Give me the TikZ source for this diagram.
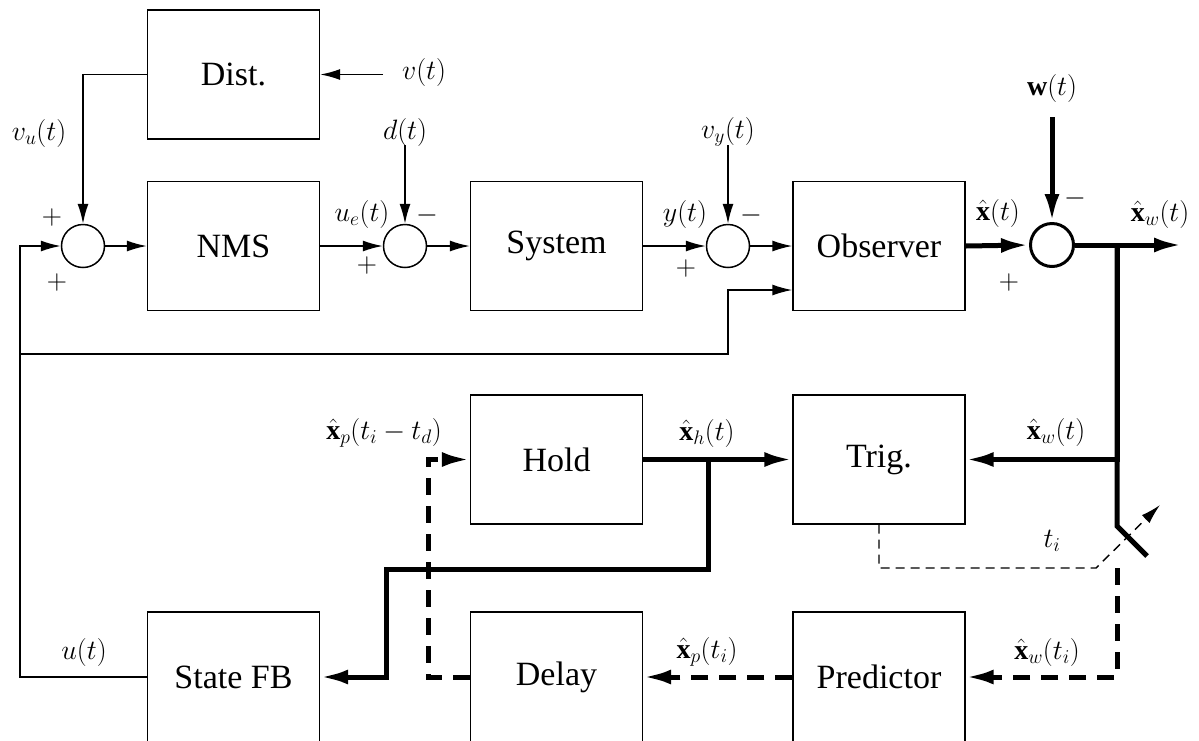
\RequirePackage{fix-cm}
\documentclass[tikz,border=0pt]{standalone}
\usepackage{fontspec}
\setmainfont{Liberation Serif}
\usetikzlibrary{arrows.meta}
\begin{document}
\begin{tikzpicture}[x=1pt,y=-1pt,
  blk/.style={draw,line width=1.4pt,minimum width=172pt,minimum height=129pt,inner sep=0pt,font=\fontsize{34}{40}\selectfont},
  sumc/.style={draw,circle,line width=1.5pt,minimum size=43pt,inner sep=0pt},
  sumk/.style={draw,circle,line width=3pt,minimum size=43pt,inner sep=0pt},
  lbl/.style={inner sep=0pt,font=\fontsize{28}{34}\selectfont},
  ln/.style={line width=1.5pt},
  tk/.style={line width=5pt},
  tda/.style={line width=5pt,dash pattern=on 17pt off 11pt},
  tdn/.style={line width=1.4pt,dash pattern=on 9pt off 6pt},
  ar/.style={-{Latex[length=20pt,width=11pt]}},
  tar/.style={-{Latex[length=28pt,width=15pt]}},
]
\useasboundingbox (0,0) rectangle (1199,740);
\clip (0,0) rectangle (1199,740);

% blocks
\node[blk] (dist) at (233.5,74.5) {Dist.};
\node[blk] (nms) at (233.5,246) {NMS};
\node[blk] (sys) at (556.5,246) {System};
\node[blk] (obs) at (879,246) {Observer};
\node[blk] (hold) at (556.5,459.5) {Hold};
\node[blk] (trig) at (879,459.5) {Trig.};
\node[blk,minimum height=130pt] (sfb) at (233.5,677) {State FB};
\node[blk,minimum height=130pt] (dly) at (556.5,677) {Delay};
\node[blk,minimum height=130pt] (prd) at (879,677) {Predictor};

% summing junctions
\node[sumc] (s1) at (83,246) {};
\node[sumc] (s2) at (405,246) {};
\node[sumc] (s3) at (728,246) {};
\node[sumk] (s4) at (1052,245) {};

% free ends and bends
\coordinate (vin) at (383,74.5);
\coordinate (din) at (405,145);
\coordinate (vyin) at (728,145);
\coordinate (win) at (1052,117);
\coordinate (out) at (1182,245);
\coordinate (fbx) at (20,354);
\coordinate (obx) at (728,354);
\coordinate (br) at (1117,245);
\coordinate (sw) at (1117,526);
\coordinate (swe) at (1147,556);
\coordinate (swd) at (1117,568);
\coordinate (ta) at (1096,568);
\coordinate (tb) at (1160,505);
\coordinate (hb) at (708,459.5);
\coordinate (hc) at (708,569);
\coordinate (hd) at (386,569);
\coordinate (dl) at (428,459.5);

% thin signal lines
\draw[ln,ar] (vin) -- (dist.east);
\draw[ln,ar] (dist.west) -| (s1.north);
\draw[ln,ar] (s1.east) -- (nms.west);
\draw[ln,ar] (nms.east) -- (s2.west);
\draw[ln,ar] (din) -- (s2.north);
\draw[ln,ar] (s2.east) -- (sys.west);
\draw[ln,ar] (sys.east) -- (s3.west);
\draw[ln,ar] (vyin) -- (s3.north);
\draw[ln,ar] (s3.east) -- (obs.west);
\draw[ln,ar] (sfb.west) -| (fbx) |- (s1.west);
\draw[ln,ar] (fbx) -- (obx) |- ([yshift=-44pt]obs.west);

% thick lines
\draw[tk,tar] (obs.east) -- (s4.west);
\draw[tk,tar] (win) -- (s4.north);
\draw[tk,tar] (s4.east) -- (out);
\draw[tk,tar] (br) |- (trig.east);
\draw[tk,line join=miter] (br) -- (sw) -- (swe);
\draw[tk,tar] (hold.east) -- (trig.west);
\draw[tk,tar] (hb) -- (hc) -- (hd) |- (sfb.east);

% dashed lines
\draw[tdn,ar] (trig.south) |- (ta) -- (tb);
\draw[tda,tar] (swd) |- (prd.east);
\draw[tda,tar] (prd.west) -- (dly.east);
\draw[tda,tar] (dly.west) -| (dl) -- (hold.west);

% labels
\node[lbl] (l1) at (424,72) {$v(t)$};
\node[lbl] (l2) at (39,133) {$v_u(t)$};
\node[lbl] (l3) at (52,217) {$+$};
\node[lbl] (l4) at (57,282) {$+$};
\node[lbl] (l5) at (405,132) {$d(t)$};
\node[lbl] (l6) at (362,214) {$u_e(t)$};
\node[lbl] (l7) at (427,215) {$-$};
\node[lbl] (l8) at (367,265) {$+$};
\node[lbl] (l9) at (685,214) {$y(t)$};
\node[lbl] (l10) at (728,132) {$v_y(t)$};
\node[lbl] (l11) at (751,215) {$-$};
\node[lbl] (l12) at (686,268) {$+$};
\node[lbl] (l13) at (998,213) {$\hat{\mathbf{x}}(t)$};
\node[lbl] (l14) at (1052,88) {$\mathbf{w}(t)$};
\node[lbl] (l15) at (1075,198) {$-$};
\node[lbl] (l16) at (1009,282) {$+$};
\node[lbl] (l17) at (1160,214) {$\hat{\mathbf{x}}_w(t)$};
\node[lbl] (l18) at (1056,432) {$\hat{\mathbf{x}}_w(t)$};
\node[lbl] (l19) at (707,433) {$\hat{\mathbf{x}}_h(t)$};
\node[lbl] (l20) at (384,433) {$\hat{\mathbf{x}}_p(t_i-t_d)$};
\node[lbl] (l21) at (1052,541) {$t_i$};
\node[lbl] (l22) at (84,652) {$u(t)$};
\node[lbl] (l23) at (707,652) {$\hat{\mathbf{x}}_p(t_i)$};
\node[lbl] (l24) at (1047,652) {$\hat{\mathbf{x}}_w(t_i)$};
\end{tikzpicture}
\end{document}
